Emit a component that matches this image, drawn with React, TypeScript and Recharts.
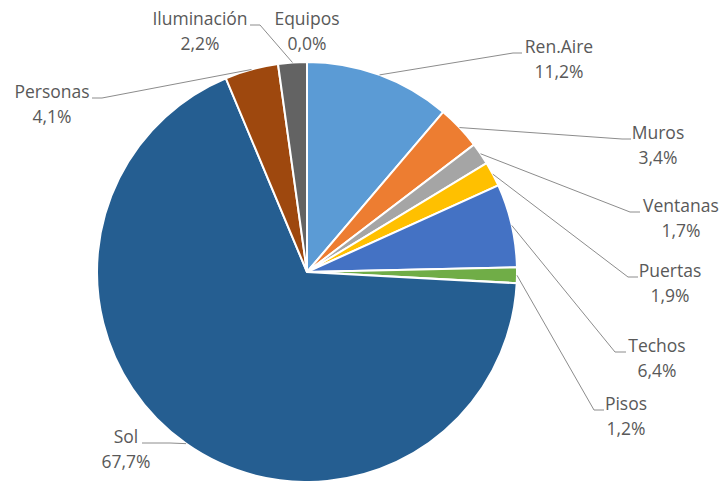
import { PieChart, Pie, Cell } from "recharts"

const categories = ["Ren.Aire", "Muros", "Ventanas", "Puertas", "Techos", "Pisos", "Sol", "Personas", "Iluminación", "Equipos"]
const shares = [11.2, 3.4, 1.7, 1.9, 6.4, 1.2, 67.7, 4.1, 2.2, 0.0]
const colors = ["#5B9BD5", "#ED7D31", "#A5A5A5", "#FFC000", "#4472C4", "#70AD47", "#255E91", "#9E480E", "#636363", "#997300"]

// where Excel put each data label (text centre, first baseline) and where its leader line meets the text
const labelSpots = [
  { x: 559, y: 53, endX: 522, elbowX: 513 },
  { x: 658, y: 139, endX: 631, elbowX: 622 },
  { x: 681, y: 212, endX: 640, elbowX: 630 },
  { x: 670, y: 277, endX: 638, elbowX: 628 },
  { x: 657, y: 352, endX: 626, elbowX: 615 },
  { x: 626, y: 410, endX: 604, elbowX: 594 },
  { x: 126, y: 443, endX: 142, elbowX: 170 },
  { x: 52, y: 98, endX: 92, elbowX: 102 },
  { x: 200, y: 25, endX: 250, elbowX: 260 },
  { x: 307, y: 25, endX: null, elbowX: null },
]

const data = categories.map((name, i) => ({ name, value: shares[i] }))

const RADIAN = Math.PI / 180
const fmt = (v: number) => v.toFixed(1).replace(".", ",") + "%"

function renderLabel(props: any) {
  const { cx, cy, midAngle, outerRadius, index } = props
  const spot = labelSpots[index]
  const name = categories[index]
  const px = cx + outerRadius * Math.cos(-midAngle * RADIAN)
  const py = cy + outerRadius * Math.sin(-midAngle * RADIAN)
  const lineY = spot.y
  return (
    <g key={"lbl-" + index}>
      {spot.endX !== null && (
        <polyline
          points={`${px},${py} ${spot.elbowX},${lineY} ${spot.endX},${lineY}`}
          fill="none"
          stroke="#8c8c8c"
          strokeWidth={1}
        />
      )}
      <text x={spot.x} y={spot.y} textAnchor="middle" fill="#595959" fontSize={17.5} fontFamily="'Open Sans', sans-serif">
        {name}
      </text>
      <text x={spot.x} y={spot.y + 25} textAnchor="middle" fill="#595959" fontSize={17.5} fontFamily="'Open Sans', sans-serif">
        {fmt(shares[index])}
      </text>
    </g>
  )
}

export default function App() {
  return (
    <div style={{ position: "absolute", left: 0, top: 0, width: 726, height: 481, background: "#fff" }}>
      <PieChart width={726} height={481} margin={{ top: 0, right: 0, bottom: 0, left: 0 }}>
        <Pie
          data={data}
          dataKey="value"
          nameKey="name"
          cx={307}
          cy={272}
          outerRadius={210}
          startAngle={90}
          endAngle={-270}
          stroke="#fff"
          strokeWidth={2}
          label={renderLabel}
          labelLine={false}
          isAnimationActive={false}
        >
          {data.map((d, i) => (
            <Cell key={d.name} fill={colors[i]} />
          ))}
        </Pie>
      </PieChart>
    </div>
  )
}
